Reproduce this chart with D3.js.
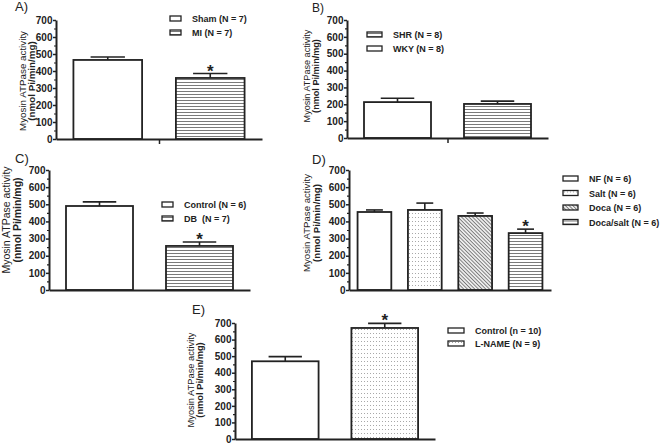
<!DOCTYPE html>
<html>
<head>
<meta charset="utf-8">
<script src="https://cdn.jsdelivr.net/npm/d3@7"></script>
<style>
    body { margin: 0; background: #fff; }
    svg { display: block; }
    text { font-family: 'Liberation Sans', Arial, sans-serif; fill: #222; white-space: pre; }
</style>
</head>
<body>
<svg width="661" height="444"></svg>
<script>
// y 轴刻度
const yTickValues = [0, 100, 200, 300, 400, 500, 600, 700];
const yMinorTicks = [50, 150, 250, 350, 450, 550, 650];
const yTitleLines = ['Myosin ATPase activity', '(nmol Pi/min/mg)'];

// A) Sham / MI
const groupsA = ['Sham', 'MI'];
const meansA = [465, 359];
const errorsA = [17, 26];
const starsA = [false, true];
const legendA = [['Sham', 'Sham (N = 7)'], ['MI', 'MI (N = 7)']];

// B) WKY / SHR
const groupsB = ['WKY', 'SHR'];
const meansB = [213, 202];
const errorsB = [23, 17];
const starsB = [false, false];
const legendB = [['SHR', 'SHR (N = 8)'], ['WKY', 'WKY (N = 8)']];

// C) Control / DB
const groupsC = ['Control', 'DB'];
const meansC = [490, 257];
const errorsC = [24, 23];
const starsC = [false, true];
const legendC = [['Control', 'Control (N = 6)'], ['DB', 'DB  (N = 7)']];

// D) NF / Salt / Doca / Doca-salt
const groupsD = ['NF', 'Salt', 'Doca', 'Doca/salt'];
const meansD = [455, 467, 432, 332];
const errorsD = [12, 40, 17, 23];
const starsD = [false, false, false, true];
const legendD = [
    ['NF', 'NF (N = 6)'],
    ['Salt', 'Salt (N = 6)'],
    ['Doca', 'Doca (N = 6)'],
    ['Doca/salt', 'Doca/salt (N = 6)'],
];

// E) Control / L-NAME
const groupsE = ['Control', 'L-NAME'];
const meansE = [469, 670];
const errorsE = [28, 28];
const starsE = [false, true];
const legendE = [['Control', 'Control (n = 10)'], ['L-NAME', 'L-NAME (N = 9)']];

// 填充样式
const fillOf = {
    Sham: '#fff', MI: 'url(#hlines)',
    WKY: '#fff', SHR: 'url(#hlines)',
    Control: '#fff', DB: 'url(#hlines)',
    NF: '#fff', Salt: 'url(#dots)', Doca: 'url(#diag)', 'Doca/salt': 'url(#hlines)',
    'L-NAME': 'url(#dots)',
};

// 各面板布局
const panels = [
    { label: 'A)', groups: groupsA, means: meansA, errors: errorsA, stars: starsA, legend: legendA,
      x0: 56, x1: 262, yTop: 20, yBot: 139, t1: 25.5, t2: 34.5, tcy: 81, tfs: 9.8, lx: 15, ly: 11, lfs: 13,
      legX: 170, legY: 16, legStep: 14, boxW: 11, midTick: true },
    { label: 'B)', groups: groupsB, means: meansB, errors: errorsB, stars: starsB, legend: legendB,
      x0: 347, x1: 548, yTop: 20, yBot: 138, t1: 310, t2: 319, tcy: 76, tfs: 9.1, lx: 312, ly: 12, lfs: 12,
      legX: 367, legY: 32, legStep: 14, boxW: 15, midTick: true },
    { label: 'C)', groups: groupsC, means: meansC, errors: errorsC, stars: starsC, legend: legendC,
      x0: 49, x1: 250, yTop: 170, yBot: 290, t1: 10, t2: 21, tcy: 220, tfs: 10.5, lx: 15, ly: 163, lfs: 13,
      legX: 162, legY: 202, legStep: 14, boxW: 11, midTick: false },
    { label: 'D)', groups: groupsD, means: meansD, errors: errorsD, stars: starsD, legend: legendD,
      x0: 349, x1: 551, yTop: 170, yBot: 290, t1: 310, t2: 320, tcy: 223, tfs: 9.6, lx: 312, ly: 164, lfs: 13,
      legX: 563, legY: 176, legStep: 14.5, boxW: 15, midTick: false },
    { label: 'E)', groups: groupsE, means: meansE, errors: errorsE, stars: starsE, legend: legendE,
      x0: 235, x1: 435, yTop: 323, yBot: 439, t1: 194, t2: 203, tcy: 380, tfs: 9.3, lx: 192, ly: 314, lfs: 13,
      legX: 448, legY: 328, legStep: 13, boxW: 16, midTick: false },
];

const ink = '#222';
const svg = d3.select('svg');

// 图案定义
const defs = svg.append('defs');
const hl = defs.append('pattern').attr('id', 'hlines')
    .attr('patternUnits', 'userSpaceOnUse').attr('width', 4).attr('height', 3);
hl.append('rect').attr('width', 4).attr('height', 3).attr('fill', '#fff');
hl.append('line').attr('x1', 0).attr('x2', 4).attr('y1', 1.5).attr('y2', 1.5)
    .attr('stroke', '#7a7a7a').attr('stroke-width', 1);

const dt = defs.append('pattern').attr('id', 'dots')
    .attr('patternUnits', 'userSpaceOnUse').attr('width', 3).attr('height', 4);
dt.append('rect').attr('width', 3).attr('height', 4).attr('fill', '#fff');
dt.append('rect').attr('x', 1).attr('y', 1).attr('width', 1).attr('height', 1).attr('fill', '#a8a8a8');

const dg = defs.append('pattern').attr('id', 'diag')
    .attr('patternUnits', 'userSpaceOnUse').attr('width', 2.6).attr('height', 2.6)
    .attr('patternTransform', 'rotate(45)');
dg.append('rect').attr('width', 2.6).attr('height', 2.6).attr('fill', '#fff');
dg.append('line').attr('x1', 0).attr('x2', 2.6).attr('y1', 1.3).attr('y2', 1.3)
    .attr('stroke', '#777').attr('stroke-width', 1.1);

panels.forEach(drawPanel);

function drawPanel(p) {
    const g = svg.append('g');

    const y = d3.scaleLinear().domain([0, 700]).range([p.yBot, p.yTop]);
    const x = d3.scaleBand().domain(p.groups).range([p.x0, p.x1])
        .paddingInner(0.33).paddingOuter(0.17);

    // 柱子
    g.selectAll('.bar').data(p.groups).enter().append('rect')
        .attr('class', 'bar')
        .attr('x', (d) => x(d))
        .attr('y', (d, i) => y(p.means[i]))
        .attr('width', x.bandwidth())
        .attr('height', (d, i) => y(0) - y(p.means[i]))
        .attr('fill', (d) => fillOf[d])
        .attr('stroke', ink).attr('stroke-width', 1.8);

    // 误差线（只画上半部分）
    const err = g.selectAll('.err').data(p.groups).enter().append('g').attr('class', 'err');
    err.append('line')
        .attr('x1', (d) => x(d) + x.bandwidth() / 2)
        .attr('x2', (d) => x(d) + x.bandwidth() / 2)
        .attr('y1', (d, i) => y(p.means[i]))
        .attr('y2', (d, i) => y(p.means[i] + p.errors[i]))
        .attr('stroke', ink).attr('stroke-width', 1.6);
    err.append('line')
        .attr('x1', (d) => x(d) + x.bandwidth() / 4)
        .attr('x2', (d) => x(d) + x.bandwidth() * 3 / 4)
        .attr('y1', (d, i) => y(p.means[i] + p.errors[i]))
        .attr('y2', (d, i) => y(p.means[i] + p.errors[i]))
        .attr('stroke', ink).attr('stroke-width', 1.6);

    // 显著性星号
    g.selectAll('.star').data(p.groups.filter((d, i) => p.stars[i])).enter().append('text')
        .attr('class', 'star')
        .attr('x', (d) => x(d) + x.bandwidth() / 2)
        .attr('y', (d) => { const i = p.groups.indexOf(d); return y(p.means[i] + p.errors[i]) + 3; })
        .attr('text-anchor', 'middle')
        .attr('font-size', 17).attr('font-weight', 'bold')
        .text('*');

    // y 轴
    const yAxis = g.append('g').attr('transform', `translate(${p.x0},0)`)
        .call(d3.axisLeft(y).tickValues(yTickValues).tickSize(3).tickSizeOuter(0).tickPadding(0.5));
    yAxis.attr('font-family', null).attr('font-size', null);
    yAxis.select('.domain').attr('stroke', ink).attr('stroke-width', 2);
    yAxis.selectAll('.tick line').attr('stroke', ink).attr('stroke-width', 1.5);
    yAxis.selectAll('text').style('font-size', '10px')
        .style('font-weight', 'bold').attr('fill', ink);

    const yMinor = g.append('g').attr('transform', `translate(${p.x0},0)`)
        .call(d3.axisLeft(y).tickValues(yMinorTicks).tickSize(2).tickSizeOuter(0).tickFormat(''));
    yMinor.select('.domain').remove();
    yMinor.selectAll('.tick line').attr('stroke', ink).attr('stroke-width', 1.2);

    // x 轴
    const xl = d3.scaleLinear().domain([0, 1]).range([p.x0, p.x1]);
    const xAxis = g.append('g').attr('transform', `translate(0,${p.yBot})`)
        .call(d3.axisBottom(xl).tickValues(p.midTick ? [0.5] : []).tickSize(5)
            .tickSizeOuter(0).tickFormat(''));
    xAxis.select('.domain').attr('stroke', ink).attr('stroke-width', 2);
    xAxis.selectAll('.tick line').attr('stroke', ink).attr('stroke-width', 1.5);

    // y 轴标题
    yTitleLines.forEach((t, i) => {
        g.append('text')
            .attr('transform', `translate(${i === 0 ? p.t1 : p.t2},${p.tcy}) rotate(-90)`)
            .attr('text-anchor', 'middle')
            .attr('font-size', p.tfs)
            .attr('font-weight', i === 0 ? 'normal' : 'bold')
            .text(t);
    });

    // 面板字母
    g.append('text').attr('x', p.lx).attr('y', p.ly)
        .attr('font-size', p.lfs).text(p.label);

    // 图例
    const leg = g.selectAll('.leg').data(p.legend).enter().append('g')
        .attr('class', 'leg')
        .attr('transform', (d, i) => `translate(${p.legX},${p.legY + i * p.legStep})`);
    leg.append('rect').attr('width', p.boxW).attr('height', 5)
        .attr('fill', (d) => fillOf[d[0]])
        .attr('stroke', ink).attr('stroke-width', 1.3);
    leg.append('text').attr('x', p.boxW + 11).attr('y', 6)
        .attr('font-size', 9).attr('font-weight', 'bold')
        .text((d) => d[1]);
}
</script>
</body>
</html>
